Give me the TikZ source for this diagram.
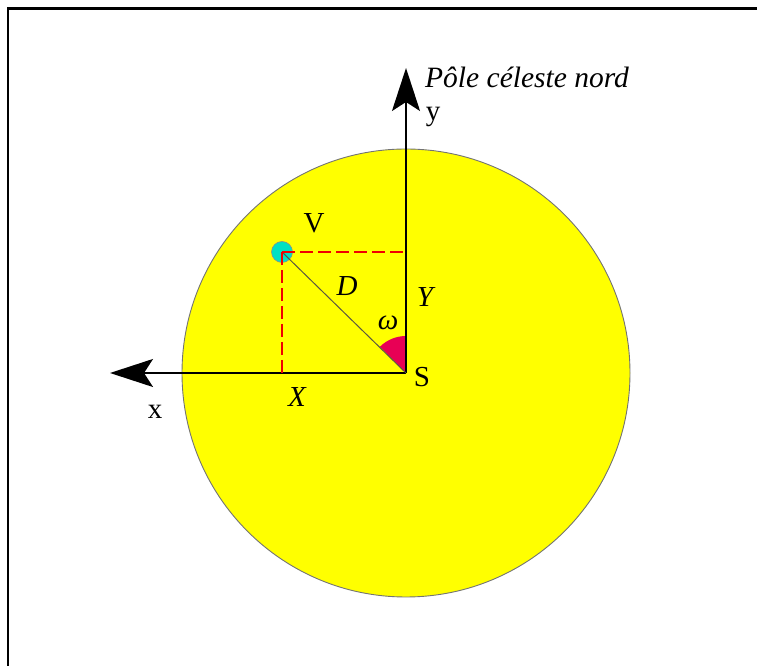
\documentclass[tikz,border=0pt]{standalone}
\usepackage{fontspec}
\setmainfont{Liberation Serif}
\usepackage{xcolor}
\usetikzlibrary{arrows.meta, positioning, calc}
\definecolor{sunYellow}{RGB}{255, 255, 0}
\definecolor{starCyan}{RGB}{0, 225, 195}
\definecolor{angleRed}{RGB}{232, 0, 85}
\definecolor{guideRed}{RGB}{240, 0, 0}

\begin{document}
\begin{tikzpicture}[
        x=1pt, y=1pt,
        font=\fontsize{29}{32}\selectfont,
        frame/.style={draw=black, line width=2.6pt},
        sun/.style={circle, draw=black!55, fill=sunYellow, line width=0.9pt, minimum size=448pt, inner sep=0pt},
        star/.style={circle, draw=black!45, fill=starCyan, line width=0.6pt, minimum size=21pt, inner sep=0pt},
        axis/.style={-{Stealth[length=43pt, width=28pt, inset=9pt]}, line width=1.8pt, black},
        guide/.style={draw=guideRed, line width=1.6pt, dash pattern=on 13pt off 5pt},
        rayline/.style={draw=black!75!yellow, line width=1pt},
        lbl/.style={inner sep=0pt, anchor=base}
    ]
        \useasboundingbox (0,0) rectangle (757,666);
        \draw[frame] (8,0) -- (8,657.5) -- (757,657.5);
        \coordinate (S) at (406, 293);
        \node[sun] (sun) at (S) {};
        \coordinate (ytip) at (406, 598);
        \coordinate (xtip) at (110, 293);
        \node[star] (V) at (282, 414) {};
        \coordinate (VY) at (S |- V);
        \coordinate (VX) at (V |- S);
        % angle omega
        \fill[angleRed] (S) -- ++(0,37) arc[start angle=90, end angle=135, radius=37] -- cycle;
        \draw[axis] (S) -- (ytip);
        \draw[axis] (S) -- (xtip);
        \draw[rayline] (V.center) -- (S);
        \draw[guide] (V.center) -- (VY);
        \draw[guide] (V.center) -- (VX);
        % labels
        \node[lbl, anchor=base west] (pole) at (425, 578) {\fontsize{29.5}{32}\selectfont\itshape Pôle céleste nord};
        \node[lbl] (ylbl) at (433, 545) {y};
        \node[lbl] (xlbl) at (155, 247) {x};
        \node[lbl] (Vlbl) at (314, 433) {V};
        \node[lbl] (Dlbl) at (347, 370) {\itshape D};
        \node[lbl] (wlbl) at (388, 336) {\itshape ω};
        \node[lbl] (Ylbl) at (425, 359) {\itshape Y};
        \node[lbl] (Slbl) at (422, 279) {S};
        \node[lbl] (Xlbl) at (297, 259) {\itshape X};
    \end{tikzpicture}
\end{document}
